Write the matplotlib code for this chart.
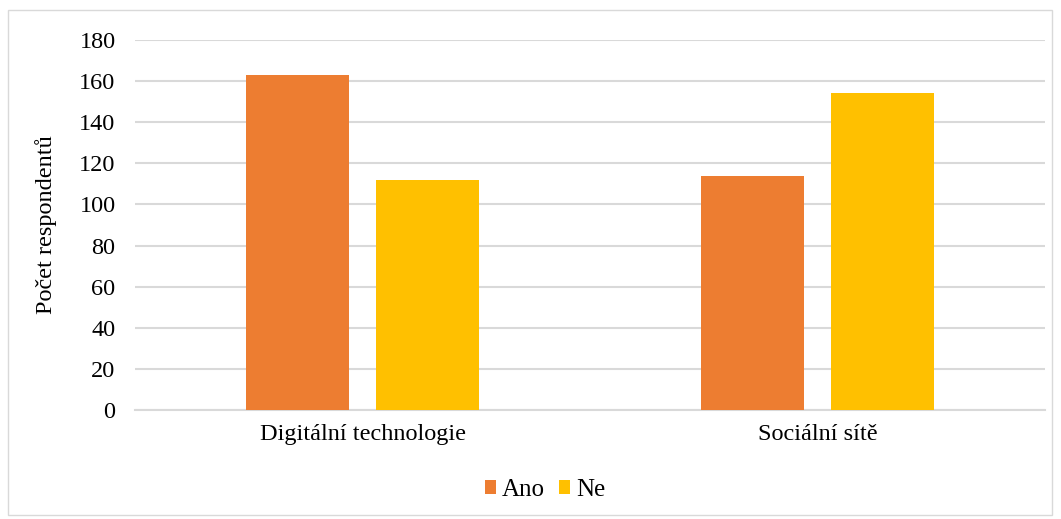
import matplotlib
matplotlib.use("Agg")
import matplotlib.pyplot as plt
import numpy as np
from matplotlib.patches import Rectangle

categories = ["Digitální technologie", "Sociální sítě"]
series_names = ["Ano", "Ne"]
ano = [163, 114]
ne = [112, 154]
yticks = [0, 20, 40, 60, 80, 100, 120, 140, 160, 180]
colors = ["#ED7D31", "#FFC000"]

plt.rcParams['font.family'] = ['Liberation Serif', 'DejaVu Serif']

W, H = 1061, 519
fig = plt.figure(figsize=(W/100, H/100), dpi=100)
ax = fig.add_axes([135/W, 1-410/H, 910/W, 370/H])

x = np.arange(len(categories))
bw = 0.226
off = 0.143
ax.bar(x - off, ano, bw, color=colors[0], label=series_names[0], zorder=3)
ax.bar(x + off, ne, bw, color=colors[1], label=series_names[1], zorder=3)

ax.set_xlim(-0.5, 1.5)
ax.set_ylim(0, 180)
ax.set_yticks(yticks)
ax.set_xticks(x)
ax.set_xticklabels(categories, fontsize=17.5)
ax.tick_params(axis='y', labelsize=17.5, length=0, pad=14)
ax.tick_params(axis='x', length=0, pad=10)
ax.grid(axis='y', color='#D9D9D9', linewidth=1.5, zorder=0)
for s in ['top', 'right', 'left']:
    ax.spines[s].set_visible(False)
ax.spines['bottom'].set_color('#D9D9D9')
ax.spines['bottom'].set_linewidth(1.5)
ax.set_ylabel("Počet respondentů", fontsize=17.5, labelpad=16)

fig.legend(loc='center', bbox_to_anchor=(545/W, 1-490/H), ncol=2, frameon=False,
           fontsize=18, handlelength=0.45, handleheight=0.45, handletextpad=0.25,
           columnspacing=0.55)

fig.patches.append(Rectangle((8/W, 4/H), (1052-8)/W, (509-4)/H, transform=fig.transFigure,
                             fill=False, edgecolor='#D9D9D9', linewidth=1))

fig.savefig("out.png", dpi=100)
